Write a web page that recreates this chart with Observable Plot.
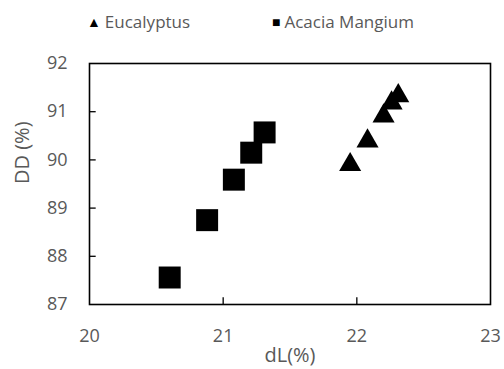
<!DOCTYPE html>
<html><head><meta charset="utf-8">
<script src="https://cdn.jsdelivr.net/npm/d3@7"></script>
<script src="https://cdn.jsdelivr.net/npm/@observablehq/plot@0.6"></script>
<style>
body{margin:0;background:#fff;}
#wrap{position:relative;width:504px;height:369px;font-family:"Open Sans",sans-serif;}
#legend{position:absolute;top:10px;left:0;width:504px;height:24px;font-size:17px;color:#595959;}
#legend span{position:absolute;white-space:nowrap;}
#legend i{font-style:normal;color:#000;font-size:14px;margin-right:4px;position:relative;top:-1px;}
</style></head>
<body><div id="wrap"><div id="legend"></div><div id="chart"></div></div>
<script>
const seriesNames = ["Eucalyptus", "Acacia Mangium"];
const euc_dL = [21.95, 22.08, 22.20, 22.26, 22.31];
const euc_DD = [89.90, 90.39, 90.91, 91.18, 91.33];
const aca_dL = [20.60, 20.88, 21.08, 21.21, 21.31];
const aca_DD = [87.56, 88.75, 89.59, 90.15, 90.57];
const xTicks = [20, 21, 22, 23];
const yTicks = [87, 88, 89, 90, 91, 92];

const euc = euc_dL.map((x, i) => ({x, y: euc_DD[i], s: seriesNames[0]}));
const aca = aca_dL.map((x, i) => ({x, y: aca_DD[i], s: seriesNames[1]}));

const legend = document.getElementById("legend");
legend.innerHTML = `<span style="left:87px"><i>▲</i>${seriesNames[0]}</span><span style="left:272px"><i>■</i>${seriesNames[1]}</span>`;

const chart = Plot.plot({
  width: 504, height: 369,
  marginLeft: 89, marginRight: 14, marginTop: 63, marginBottom: 65,
  style: {fontFamily: "'Open Sans', sans-serif", fontSize: "18px", color: "#595959", background: "#fff"},
  x: {type: "linear", domain: [20, 23]},
  y: {type: "linear", domain: [87, 92]},
  marks: [
    Plot.axisX({ticks: xTicks, tickFormat: "d", tickSize: 0, tickPadding: 25, fill: "#595959", label: null, fontSize: 18}),
    Plot.axisY({ticks: yTicks, tickFormat: "d", tickSize: 0, tickPadding: 22, fill: "#595959", label: null, fontSize: 18}),
    Plot.ruleX(xTicks.slice(1, -1), {x: d => d, y1: 87, y2: 87.14, stroke: "#000", strokeWidth: 1.3}),
    Plot.ruleY(yTicks.slice(1, -1), {y: d => d, x1: 20, x2: 20.05, stroke: "#000", strokeWidth: 1.3}),
    Plot.frame({stroke: "#000", strokeWidth: 1.6}),
    Plot.text(["dL(%)"], {frameAnchor: "bottom", dy: 57, fill: "#595959", fontSize: 20}),
    Plot.text(["DD (%)"], {frameAnchor: "left", dx: -67, rotate: -90, fill: "#595959", fontSize: 20}),
    Plot.dot(aca, {x: "x", y: "y", symbol: "square", r: 12.4, fill: "#000", stroke: null}),
    Plot.dot(euc, {x: "x", y: "y", symbol: "triangle", r: 8.2, fill: "#000", stroke: null})
  ]
});
document.getElementById("chart").appendChild(chart);
</script></body></html>
